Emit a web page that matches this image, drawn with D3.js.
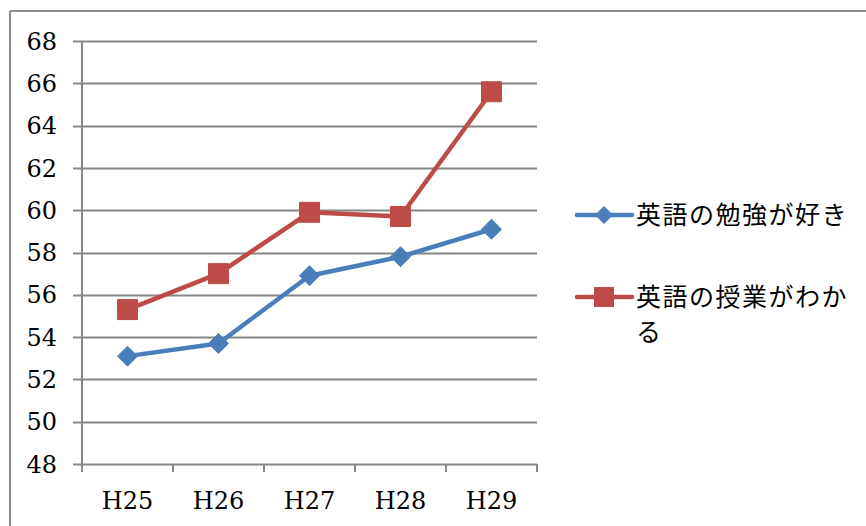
<!DOCTYPE html>
<html>
<head>
<meta charset="utf-8">
<script src="https://cdn.jsdelivr.net/npm/d3@7"></script>
<style>
	body { margin: 0; background: #fff; }
	svg { display: block; }
	.tick-label { font-family: "DejaVu Serif", "Liberation Serif", serif; font-size: 24px; fill: #000; }
</style>
</head>
<body>
<svg id="chart" width="866" height="526"></svg>
<script>
var categories = ['H25', 'H26', 'H27', 'H28', 'H29'];
var likeValues = [53.1, 53.7, 56.9, 57.8, 59.1];
var understandValues = [55.3, 57.0, 59.9, 59.7, 65.6];
var yTicks = [48, 50, 52, 54, 56, 58, 60, 62, 64, 66, 68];
var seriesNames = ['英語の勉強が好き', '英語の授業がわかる'];

var svg = d3.select('#chart');

// outer frame (only top and left edges show)
svg.append('line').attr('x1', 10).attr('y1', 11).attr('x2', 866).attr('y2', 11)
	.style('stroke', '#8c8c8c').style('stroke-width', 2);
svg.append('line').attr('x1', 10).attr('y1', 11).attr('x2', 10).attr('y2', 526)
	.style('stroke', '#8c8c8c').style('stroke-width', 2);

var plot = {left: 82, right: 537, top: 41, bottom: 464};

var x = d3.scaleBand()
	.domain(categories)
	.range([plot.left, plot.right]);

var y = d3.scaleLinear()
	.domain([48, 68])
	.range([plot.bottom, plot.top]);

var gridColor = '#868686';

// grid lines
svg.append('g').selectAll('line')
	.data(yTicks)
	.enter().append('line')
	.attr('x1', plot.left - 9)
	.attr('x2', plot.right)
	.attr('y1', function(d){ return Math.round(y(d)) + 0.5; })
	.attr('y2', function(d){ return Math.round(y(d)) + 0.5; })
	.style('stroke', gridColor)
	.style('stroke-width', 2);

// y axis line
svg.append('line')
	.attr('x1', plot.left).attr('x2', plot.left)
	.attr('y1', plot.top).attr('y2', plot.bottom + 1)
	.style('stroke', gridColor).style('stroke-width', 2);

// x tick marks
var xTickPos = categories.map(function(c){ return x(c); }).concat([plot.right]);
svg.append('g').selectAll('line')
	.data(xTickPos)
	.enter().append('line')
	.attr('x1', function(d){ return d; })
	.attr('x2', function(d){ return d; })
	.attr('y1', plot.bottom)
	.attr('y2', plot.bottom + 8)
	.style('stroke', gridColor)
	.style('stroke-width', 2);

// y labels
svg.append('g').selectAll('text')
	.data(yTicks)
	.enter().append('text')
	.attr('class', 'tick-label')
	.attr('x', 57)
	.attr('y', function(d){ return y(d); })
	.attr('dy', '0.36em')
	.attr('text-anchor', 'end')
	.text(function(d){ return d; });

// x labels
svg.append('g').selectAll('text')
	.data(categories)
	.enter().append('text')
	.attr('class', 'tick-label')
	.attr('x', function(d){ return x(d) + x.bandwidth() / 2; })
	.attr('y', 509)
	.attr('text-anchor', 'middle')
	.text(function(d){ return d; });

var cx = function(d, i){ return x(categories[i]) + x.bandwidth() / 2; };

var blue = '#4a7ebb', red = '#be4b48';

var line = d3.line()
	.x(function(d, i){ return cx(d, i); })
	.y(function(d){ return y(d); });

function drawSeries(values, color, shape){
	svg.append('path')
		.datum(values)
		.attr('d', line)
		.style('fill', 'none')
		.style('stroke', color)
		.style('stroke-width', 4.5)
		.style('stroke-linejoin', 'round');

	var marker = svg.append('g').selectAll('path')
		.data(values)
		.enter().append('path')
		.attr('transform', function(d, i){ return 'translate(' + cx(d, i) + ',' + y(d) + ')'; })
		.style('fill', color)
		.style('stroke', color)
		.style('stroke-width', 1);
	if(shape == 'diamond'){
		marker.attr('d', 'M0,-10L10,0L0,10L-10,0Z');
	}else{
		marker.attr('d', 'M-10,-10L10,-10L10,10L-10,10Z');
	}
}

drawSeries(likeValues, blue, 'diamond');
drawSeries(understandValues, red, 'square');

// legend
var legendFont = '"Noto Sans CJK JP", sans-serif';
function legendItem(yPos, color, shape, lines){
	svg.append('line')
		.attr('x1', 577).attr('x2', 632)
		.attr('y1', yPos).attr('y2', yPos)
		.style('stroke', color).style('stroke-width', 4.5)
		.style('stroke-linecap', 'round');
	var m = svg.append('path')
		.attr('transform', 'translate(604,' + yPos + ')')
		.style('fill', color);
	if(shape == 'diamond') m.attr('d', 'M0,-9L9,0L0,9L-9,0Z');
	else m.attr('d', 'M-10,-10L10,-10L10,10L-10,10Z');
	var t = svg.append('text')
		.style('font-family', legendFont)
		.style('font-size', '25px')
		.style('letter-spacing', '1.5px')
		.style('fill', '#000');
	lines.forEach(function(s, i){
		t.append('tspan')
			.attr('x', 636)
			.attr('y', yPos + i * 35)
			.attr('dy', '0.35em')
			.text(s);
	});
}

legendItem(215, blue, 'diamond', [seriesNames[0]]);
legendItem(297, red, 'square', [seriesNames[1].slice(0, 8), seriesNames[1].slice(8)]);
</script>
</body>
</html>
